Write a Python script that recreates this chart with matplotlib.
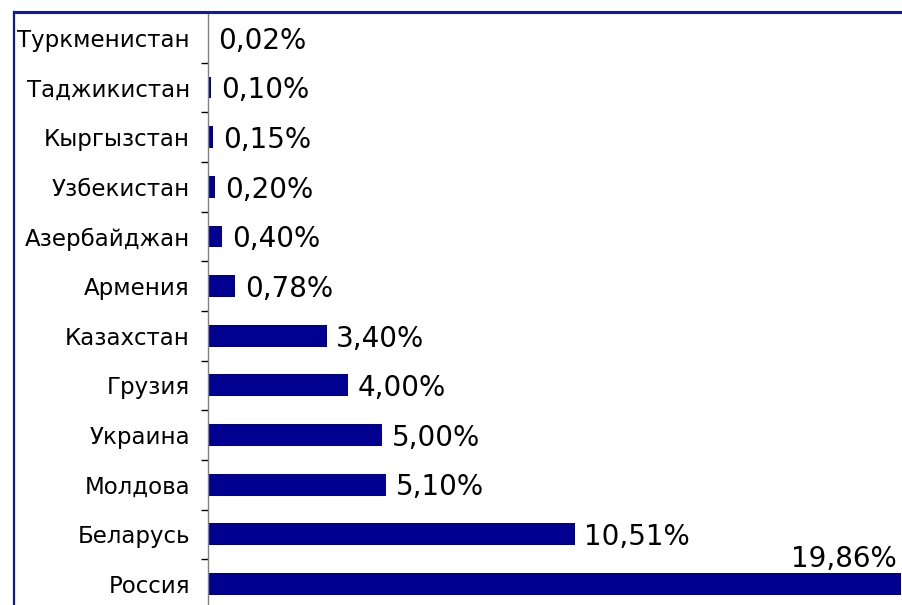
import matplotlib
matplotlib.use('Agg')
import matplotlib.pyplot as plt
from matplotlib.lines import Line2D
import numpy as np

# data, bottom to top as drawn
countries = ['Россия', 'Беларусь', 'Молдова', 'Украина', 'Грузия', 'Казахстан',
             'Армения', 'Азербайджан', 'Узбекистан', 'Кыргызстан', 'Таджикистан',
             'Туркменистан']
shares = [19.86, 10.51, 5.10, 5.00, 4.00, 3.40, 0.78, 0.40, 0.20, 0.15, 0.10, 0.02]
labels = ['19,86%', '10,51%', '5,10%', '5,00%', '4,00%', '3,40%', '0,78%',
          '0,40%', '0,20%', '0,15%', '0,10%', '0,02%']

plt.rcParams['font.family'] = ['DejaVu Sans']

W, H = 902, 605
fig = plt.figure(figsize=(W / 100, H / 100), dpi=100, facecolor='white')

# blue frame (only left and top edges are visible in the crop)
frame_col = '#1018a8'
fig.add_artist(Line2D([14 / W, 14 / W], [0, 1 - 12 / H], color=frame_col, lw=1.6,
                      transform=fig.transFigure))
fig.add_artist(Line2D([14 / W, 1.0], [1 - 12 / H, 1 - 12 / H], color=frame_col, lw=2.2,
                      transform=fig.transFigure))

ax = fig.add_axes([208 / W, -3.8 / H, 693 / W, 595.8 / H])
y = np.arange(len(countries))
ax.barh(y, shares, height=0.44, color='#000090')

ax.set_xlim(0, max(shares))
ax.set_ylim(-0.5, len(countries) - 0.5)

for s in ['top', 'right', 'bottom']:
    ax.spines[s].set_visible(False)
ax.spines['left'].set_color('#808080')
ax.spines['left'].set_linewidth(1.0)

ax.set_xticks([])
ax.set_yticks(y)
ax.set_yticklabels(countries, fontsize=16.5)
ax.tick_params(axis='y', which='major', length=0, pad=13)
ax.set_yticks(y[:-1] + 0.5, minor=True)
ax.tick_params(axis='y', which='minor', length=5, width=1, color='black', direction='out')

top = max(shares)
for yi, v, lab in zip(y, shares, labels):
    if v == top:
        ax.annotate(lab, (v, yi + 0.22), xytext=(-3, 0), textcoords='offset points',
                    ha='right', va='bottom', fontsize=20, annotation_clip=False)
    else:
        ax.annotate(lab, (v, yi), xytext=(7, -2), textcoords='offset points',
                    ha='left', va='center', fontsize=20)

fig.savefig('out.png', dpi=100, facecolor='white')
